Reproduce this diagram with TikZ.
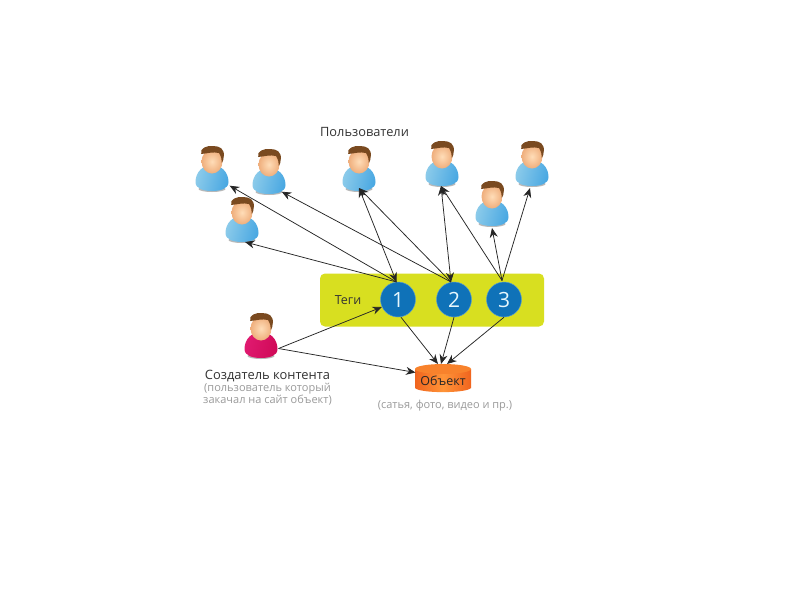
\documentclass[tikz,border=0pt]{standalone}
\usepackage{fontspec}
\setmainfont{Open Sans}
\usetikzlibrary{arrows.meta}
\definecolor{tagyellow}{HTML}{D8DF20}
\definecolor{tagblue}{HTML}{0F72B8}
\definecolor{hairbrown}{HTML}{7A4A20}
\definecolor{graytext}{HTML}{9A9A9A}
\definecolor{darktext}{HTML}{333333}
\definecolor{bluea}{HTML}{8CCBEA}
\definecolor{blueb}{HTML}{4AA8E2}
\definecolor{crimsona}{HTML}{E01A70}
\definecolor{crimsonb}{HTML}{D00A58}
\definecolor{skina}{HTML}{FFDDB8}
\definecolor{skinb}{HTML}{EFAE7C}
\definecolor{objside}{HTML}{F0641E}
\definecolor{objmid}{HTML}{FF9438}
\definecolor{objtop}{HTML}{F8822C}
\tikzset{
  pics/person/.style 2 args={code={
    \fill[black!55,opacity=.5] (0,-3) ellipse [x radius=13.5,y radius=3];
    \shade[left color=#1,right color=#2,shading angle=75]
      (-16.5,-10) .. controls (-16.5,-20) and (-9,-27) .. (0,-27)
      .. controls (9,-27) and (16.5,-20) .. (16.5,-10)
      .. controls (16.5,-3) and (8,-1) .. (0,-1)
      .. controls (-8,-1) and (-16.5,-3) .. (-16.5,-10) -- cycle;
    \shade[inner color=skina,outer color=skinb] (0,-30.5) ellipse [x radius=10.5,y radius=12];
    \fill[hairbrown]
      (-10.8,-38) .. controls (-12.5,-44) and (-5,-46.5) .. (1,-46)
      .. controls (8,-46) and (12.5,-43) .. (11.8,-36)
      .. controls (11.6,-33) and (11,-30) .. (9.8,-29)
      .. controls (9.8,-32) and (9.5,-35) .. (7,-39)
      .. controls (1,-40.5) and (-5,-38.5) .. (-10.8,-38) -- cycle;
  }},
  usernode/.style={inner sep=0pt,minimum width=33pt,minimum height=46pt},
  tagnode/.style={circle,fill=tagblue,draw=tagblue!70!white,line width=.5pt,minimum size=35pt,inner sep=0pt,text=white!90!cyan,font=\fontsize{21}{21}\selectfont},
  caption/.style={inner sep=0pt,align=center,text=darktext},
  note/.style={inner sep=0pt,align=center,text=graytext,font=\fontsize{11}{12}\selectfont},
  link/.style={draw=black!85,line width=.75pt,-{Stealth[length=9.5pt,width=8pt]}},
  bilink/.style={draw=black!85,line width=.75pt,{Stealth[length=9.5pt,width=8pt]}-{Stealth[length=9.5pt,width=8pt]}},
}
\newcommand{\usermark}[5]{%
  \pic at (#2,#3) {person={#4}{#5}};
  \node[usernode] (#1) at (#2,#3-23) {};}
\begin{document}
\begin{tikzpicture}[x=1pt,y=-1pt]
\useasboundingbox (0,0) rectangle (800,600);
\fill[white] (0,0) rectangle (800,600);
% tag band
\node[fill=tagyellow,rounded corners=5pt,minimum width=224pt,minimum height=53pt,inner sep=0pt] (band) at (432,300) {};
\node[caption,font=\fontsize{12.5}{13}\selectfont] (tegi) at (348,300.5) {Теги};
\node[tagnode] (t1) at (398,299.5) {1};
\node[tagnode] (t2) at (454,299.5) {2};
\node[tagnode] (t3) at (504,299.5) {3};
% users
\usermark{u1}{212}{192}{bluea}{blueb}
\usermark{u2}{269}{195}{bluea}{blueb}
\usermark{u3}{242}{243}{bluea}{blueb}
\usermark{u4}{359}{192}{bluea}{blueb}
\usermark{u5}{442}{187}{bluea}{blueb}
\usermark{u6}{492}{227}{bluea}{blueb}
\usermark{u7}{532}{187}{bluea}{blueb}
\usermark{creator}{261}{359}{crimsona}{crimsonb}
% object
\shade[left color=objside,right color=objside,middle color=objmid]
  (415,369) -- (415,388) .. controls (420,393.5) and (466,393.5) .. (471,388) -- (471,369)
  .. controls (466,374) and (420,374) .. (415,369) -- cycle;
\fill[objtop] (443,369) ellipse [x radius=28,y radius=5];
\node[inner sep=0pt,minimum width=56pt,minimum height=28pt,text=black!85,font=\fontsize{12.5}{13}\selectfont] (obj) at (443,380.5) {Объект};
% anchor points on users and object
\coordinate (p1) at (229.7,185.7);
\coordinate (p2) at (281.7,191.7);
\coordinate (p3) at (245,242);
\coordinate (p4) at (359,188);
\coordinate (p5) at (441,186);
\coordinate (p6) at (492,228);
\coordinate (p7) at (530,188);
\coordinate (c1) at (278.5,348.5);
\coordinate (o1) at (438,364);
\coordinate (o2) at (441,364);
\coordinate (o3) at (447,364);
\coordinate (o4) at (415.5,372.5);
\coordinate (a1) at (396.5,282);
\coordinate (a2) at (451,282);
\coordinate (a3) at (502,280.5);
% connectors
\draw[link] (a1) -- (p1);
\draw[link] (a2) -- (p2);
\draw[link] (a1) -- (p3);
\draw[bilink] (a1) -- (p4);
\draw[link] (a2) -- (p4);
\draw[bilink] (a2) -- (p5);
\draw[link] (a3) -- (p5);
\draw[link] (a3) -- (p6);
\draw[link] (a3) -- (p7);
\draw[link] (c1) -- (t1.205);
\draw[link] (c1) -- (o4);
\draw[link] (t1.south) ++(3,0) -- (o1);
\draw[link] (t2.south) -- (o2);
\draw[link] (t3.south) -- (o3);
% captions
\node[caption,font=\fontsize{12.8}{14}\selectfont] (users) at (364.5,132) {Пользователи};
\node[caption,font=\fontsize{12.9}{14}\selectfont] (ctitle) at (267.5,376) {Создатель контента};
\node[note] (cnote) at (267.5,394) {(пользователь который\\закачал на сайт объект)};
\node[note] (onote) at (445,405.5) {(сатья, фото, видео и пр.)};
\end{tikzpicture}
\end{document}
